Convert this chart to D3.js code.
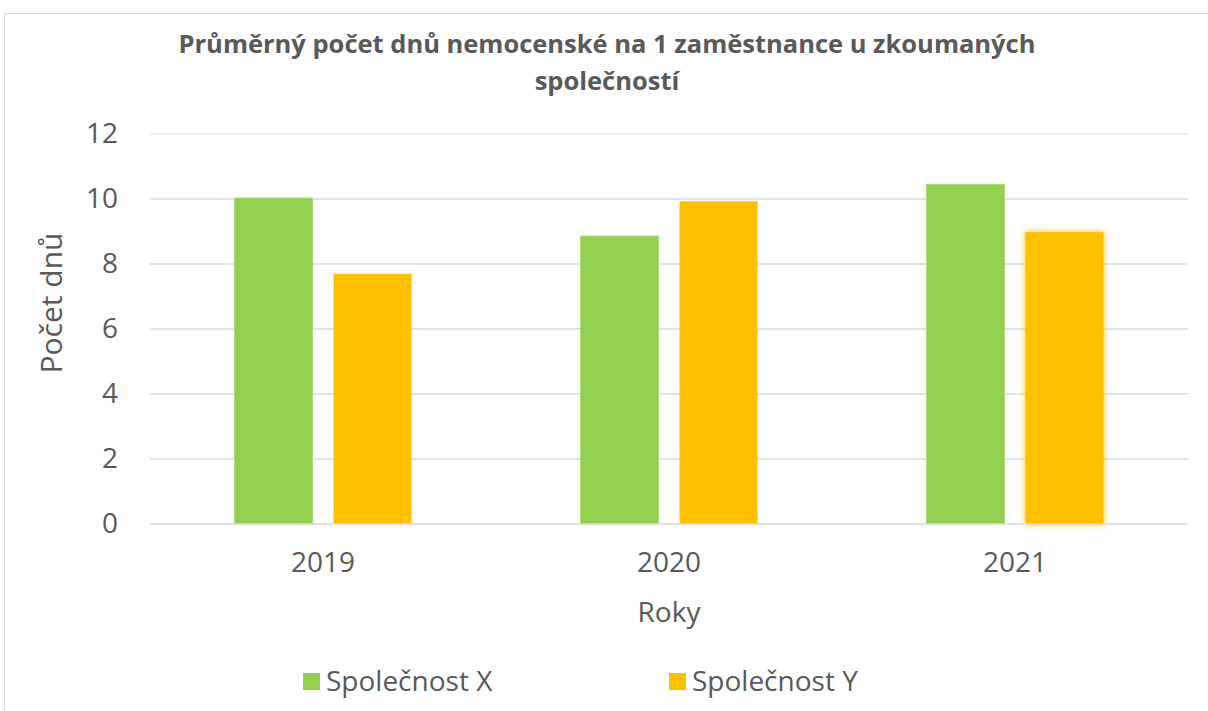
<!DOCTYPE html>
<html>
<head>
<meta charset="utf-8">
<script src="https://cdn.jsdelivr.net/npm/d3@7"></script>
<style>
  body { margin: 0; background: #fff; }
  text { font-family: "Open Sans", "DejaVu Sans", sans-serif; fill: #595959; }
</style>
</head>
<body>
<div class="bar_chart"></div>
<script>
// data
const years = ["2019", "2020", "2021"]
const seriesNames = ["Společnost X", "Společnost Y"]
const valuesX = [10.03, 8.86, 10.45]
const valuesY = [7.7, 9.93, 8.98]
const yTicks = [0, 2, 4, 6, 8, 10, 12]
const colors = ["#92d050", "#ffc000"]

const rows = years.map((y, i) => ({ year: y, values: [valuesX[i], valuesY[i]] }))

let dimensions = {
    width: 1208,
    height: 711,
    margin: { top: 134, right: 20, bottom: 187, left: 150 }
}
dimensions.boundedWidth = dimensions.width - dimensions.margin.left - dimensions.margin.right
dimensions.boundedHeight = dimensions.height - dimensions.margin.top - dimensions.margin.bottom

const wrapper = d3.select(".bar_chart")
    .append("svg")
    .attr("width", dimensions.width)
    .attr("height", dimensions.height)

// glow on the last yellow bar
const defs = wrapper.append("defs")
const glow = defs.append("filter").attr("id", "glow")
    .attr("x", "-20%").attr("y", "-10%").attr("width", "140%").attr("height", "120%")
glow.append("feGaussianBlur").attr("in", "SourceGraphic").attr("stdDeviation", 3).attr("result", "b")
const merge = glow.append("feMerge")
merge.append("feMergeNode").attr("in", "b")
merge.append("feMergeNode").attr("in", "SourceGraphic")

// chart border
wrapper.append("rect")
    .attr("x", 4.5).attr("y", 13.5)
    .attr("width", 1220).attr("height", 720)
    .attr("fill", "none")
    .attr("stroke", "#d9d9d9")

const bounds = wrapper.append("g")
    .attr("transform", `translate(${dimensions.margin.left},${dimensions.margin.top})`)

const xScale = d3.scaleBand()
    .domain(years)
    .range([0, dimensions.boundedWidth])
    .padding(0)

const innerScale = d3.scaleBand()
    .domain(seriesNames)
    .range([0, xScale.bandwidth()])
    .paddingInner(0.212)
    .paddingOuter(0.853)

const yScale = d3.scaleLinear()
    .domain([0, 12])
    .range([dimensions.boundedHeight, 0])

// gridlines
bounds.append("g")
    .selectAll("line")
    .data(yTicks.filter(d => d > 0))
    .join("line")
    .attr("x1", 0)
    .attr("x2", dimensions.boundedWidth)
    .attr("y1", d => yScale(d))
    .attr("y2", d => yScale(d))
    .attr("stroke", d => d == 12 ? "#e6ecf6" : "#d0dbef")
    .attr("stroke-width", 1.5)

// y axis labels
const yAxisGenerator = d3.axisLeft(yScale)
    .tickValues(yTicks)
    .tickSize(0)
    .tickPadding(32)
const yAxis = bounds.append("g").call(yAxisGenerator)
yAxis.select(".domain").remove()
yAxis.selectAll("text")
    .style("font-size", "28px")
    .style("font-family", "'Open Sans'")
    .attr("fill", "#595959")

// bars
const groups = bounds.selectAll(".group")
    .data(rows)
    .join("g")
    .attr("class", "group")
    .attr("transform", d => `translate(${xScale(d.year)},0)`)

groups.selectAll("rect")
    .data(d => d.values.map((v, i) => ({ year: d.year, series: seriesNames[i], value: v, i })))
    .join("rect")
    .attr("x", d => innerScale(d.series))
    .attr("y", d => yScale(d.value))
    .attr("width", innerScale.bandwidth())
    .attr("height", d => yScale(0) - yScale(d.value))
    .attr("fill", d => colors[d.i])
    .attr("stroke", d => d.i == 0 ? "#a9dc7a" : "none")
    .attr("stroke-width", 1)
    .attr("filter", d => d.year == "2021" && d.i == 1 ? "url(#glow)" : null)

// zero line
bounds.append("line")
    .attr("x1", 0)
    .attr("x2", dimensions.boundedWidth)
    .attr("y1", yScale(0))
    .attr("y2", yScale(0))
    .attr("stroke", "#d9d9d9")
    .attr("stroke-width", 1.5)

// x axis
const xAxisGenerator = d3.axisBottom(xScale).tickSize(0).tickPadding(28)
const xAxis = bounds.append("g")
    .attr("transform", `translate(0,${dimensions.boundedHeight})`)
    .call(xAxisGenerator)
xAxis.select(".domain").remove()
xAxis.selectAll("text")
    .style("font-size", "28px")
    .style("font-family", "'Open Sans'")
    .attr("fill", "#595959")

// axis titles
wrapper.append("text")
    .attr("x", 669)
    .attr("y", 622)
    .attr("text-anchor", "middle")
    .style("font-size", "28px")
    .text("Roky")

wrapper.append("text")
    .attr("transform", "translate(62,303) rotate(-90)")
    .attr("text-anchor", "middle")
    .style("font-size", "30px")
    .text("Počet dnů")

// title
const title = wrapper.append("text")
    .attr("text-anchor", "middle")
    .style("font-size", "25.5px")
    .style("font-weight", "bold")
title.append("tspan").attr("x", 607).attr("y", 53)
    .text("Průměrný počet dnů nemocenské na 1 zaměstnance u zkoumaných")
title.append("tspan").attr("x", 607).attr("y", 90)
    .text("společností")

// legend
const legend = wrapper.append("g")
    .selectAll("g")
    .data(seriesNames)
    .join("g")
    .attr("transform", (d, i) => `translate(${[303, 669][i]},673)`)
legend.append("rect")
    .attr("width", 17).attr("height", 17)
    .attr("fill", (d, i) => colors[i])
legend.append("text")
    .attr("x", 23).attr("y", 18)
    .style("font-size", "28px")
    .text(d => d)
</script>
</body>
</html>
